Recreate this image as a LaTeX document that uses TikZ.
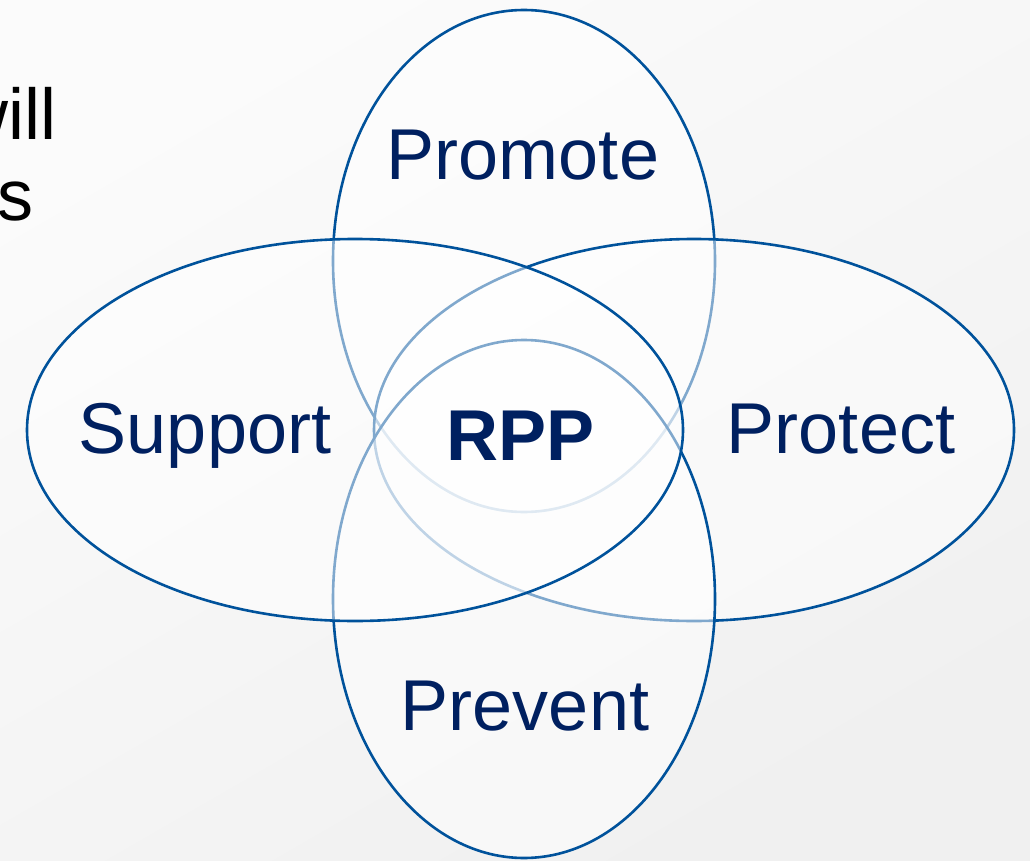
\documentclass[tikz,border=0pt]{standalone}
\usepackage{fontspec}
\setmainfont{Liberation Sans}
\definecolor{ringblue}{RGB}{0,82,155}
\definecolor{navy}{RGB}{0,32,96}
\definecolor{bgA}{RGB}{251,251,251}
\definecolor{bgB}{RGB}{240,240,240}
\begin{document}
\begin{tikzpicture}[x=1pt,y=-1pt,
  ring/.style={draw=ringblue,line width=2.6pt,fill=white,fill opacity=0.5},
  lbl/.style={text=navy,font=\fontsize{72}{86}\selectfont,anchor=base,inner sep=0pt},
  cut/.style={text=black,font=\fontsize{72}{86}\selectfont,anchor=base east,inner sep=0pt}]
\useasboundingbox (0,0) rectangle (1030,861);
\shade[top color=bgA,bottom color=bgB,shading angle=30] (0,0) rectangle (1030,861);
\node[cut] (will) at (57,140) {will};
\node[cut] (s) at (34,220) {s};
% ellipses, bottom to top
\path[ring] (524,261) ellipse [x radius=191,y radius=251];
\path[ring] (694,430) ellipse [x radius=320,y radius=191];
\path[ring] (524,599) ellipse [x radius=191,y radius=259];
\path[ring] (355,430) ellipse [x radius=328,y radius=191];
\node[lbl] (promote) at (523,180) {Promote};
\node[lbl] (support) at (205,453) {Support};
\node[lbl,font=\fontsize{72}{86}\selectfont\bfseries] (rpp) at (521,460) {RPP};
\node[lbl] (protect) at (841,453) {Protect};
\node[lbl] (prevent) at (525,730) {Prevent};
\end{tikzpicture}
\end{document}
